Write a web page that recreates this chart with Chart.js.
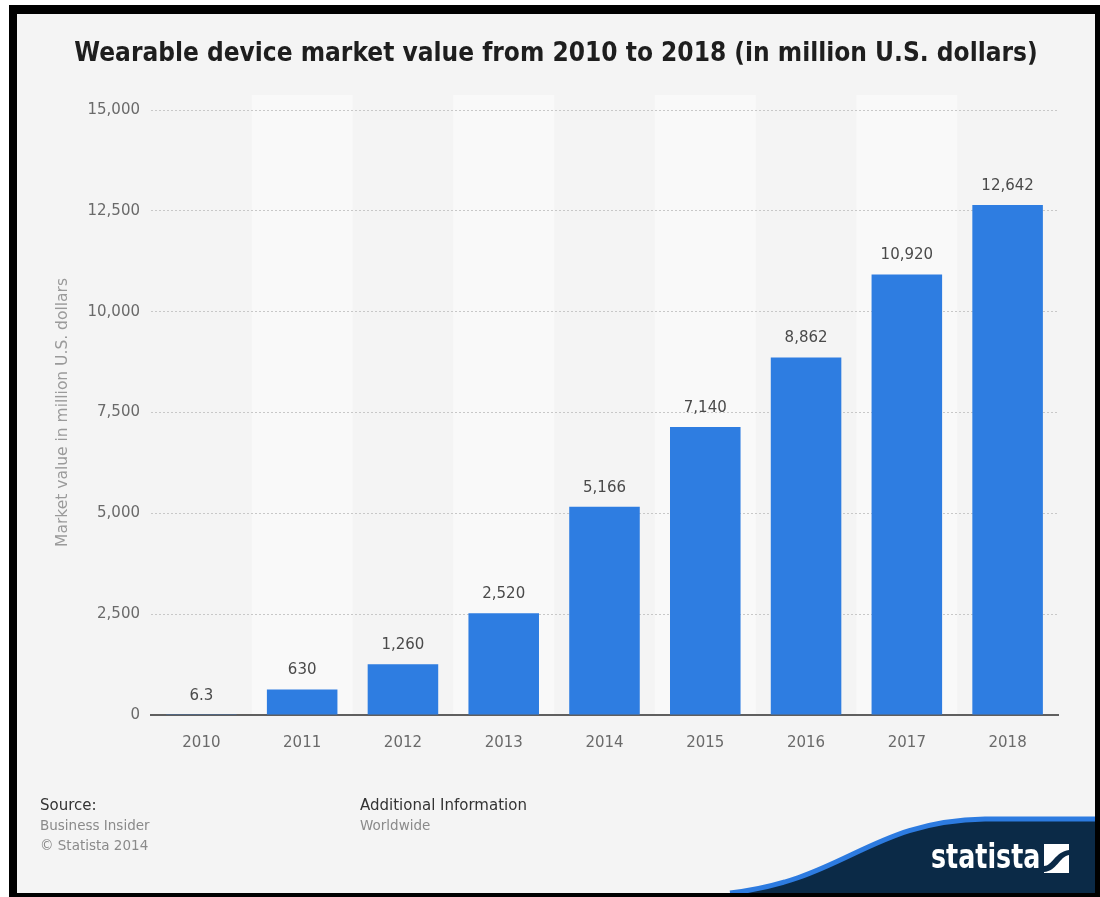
<!DOCTYPE html>
<html><head><meta charset="utf-8">
<script src="https://cdn.jsdelivr.net/npm/chart.js@4.4.1/dist/chart.umd.min.js"></script>
<style>
html,body{margin:0;padding:0;background:#fff;width:1100px;height:897px;overflow:hidden;}
#frame{position:absolute;left:9px;top:5px;width:1091px;height:892px;background:#000;}
#inner{position:absolute;left:17px;top:14px;width:1078px;height:879px;background:#f4f4f4;overflow:hidden;}
#wrap{position:absolute;left:0;top:0;width:1078px;height:879px;}
#title{position:absolute;left:0;top:23px;width:1078px;text-align:center;font-family:'DejaVu Sans Condensed','DejaVu Sans',sans-serif;font-stretch:condensed;font-weight:bold;font-size:26px;line-height:30px;color:#1e1e1e;}
.ft{position:absolute;font-family:'DejaVu Sans',sans-serif;font-size:13.5px;line-height:20px;}
.ft .h{color:#333;font-size:15px;}
.ft .s{color:#8a8a8a;}
#logo{position:absolute;left:0;top:0;}
#logotext{position:absolute;left:914px;top:822px;font-family:'DejaVu Sans',sans-serif;font-weight:bold;font-size:34px;line-height:40px;color:#fff;transform:scaleX(0.745);transform-origin:left top;}
</style></head>
<body>
<div id="frame"></div>
<div id="inner">
  <div id="wrap"><canvas id="c" width="1078" height="879"></canvas></div>
  <div id="title">Wearable device market value from 2010 to 2018 (in million U.S. dollars)</div>
  <div class="ft" style="left:23px;top:781px;"><div class="h">Source:</div><div class="s">Business Insider</div><div class="s">© Statista 2014</div></div>
  <div class="ft" style="left:343px;top:781px;"><div class="h">Additional Information</div><div class="s">Worldwide</div></div>
  <svg id="logo" width="1078" height="879" viewBox="17 14 1078 879">
    <path d="M 730 893 C 845 880, 870 821, 985 819 L 1095 819 L 1095 893 Z" fill="#0b2a47"/>
    <path d="M 730 893 C 845 880, 870 821, 985 819 L 1095 819" fill="none" stroke="#2d7be0" stroke-width="5"/>
    <rect x="1044" y="844" width="25" height="29" fill="#fff"/>
    <path d="M 1044 866 C 1052 866, 1055 852, 1069 850 L 1069 855 C 1059 857, 1057 871, 1044 872 Z" fill="#0b2a47"/>
  </svg>
  <div id="logotext">statista</div>
</div>
<script>
const categories = ['2010','2011','2012','2013','2014','2015','2016','2017','2018'];
const marketValue = [6.3, 630, 1260, 2520, 5166, 7140, 8862, 10920, 12642];
const yTicks = [0, 2500, 5000, 7500, 10000, 12500, 15000];
const yAxisTitle = 'Market value in million U.S. dollars';

const FONT = "'DejaVu Sans', sans-serif";

const bandsPlugin = {
  id: 'bands',
  beforeDraw(chart) {
    const {ctx, chartArea, scales} = chart;
    const x = scales.x;
    const step = (chartArea.right - chartArea.left) / categories.length;
    ctx.save();
    ctx.fillStyle = '#f9f9f9';
    categories.forEach((c, i) => {
      if (i % 2 === 1) {
        const cx = x.getPixelForValue(i);
        ctx.fillRect(cx - step / 2, chartArea.top - 15, step, chartArea.bottom - chartArea.top + 15);
      }
    });
    ctx.restore();
  }
};

const labelsPlugin = {
  id: 'valueLabels',
  afterDatasetsDraw(chart) {
    const {ctx} = chart;
    const meta = chart.getDatasetMeta(0);
    ctx.save();
    ctx.font = '15px ' + FONT;
    ctx.fillStyle = '#4a4a4a';
    ctx.textAlign = 'center';
    ctx.textBaseline = 'middle';
    meta.data.forEach((bar, i) => {
      const v = chart.data.datasets[0].data[i];
      ctx.fillText(v.toLocaleString('en-US'), bar.x, bar.y - 19);
    });
    ctx.restore();
  }
};

new Chart(document.getElementById('c'), {
  type: 'bar',
  data: {
    labels: categories,
    datasets: [{
      data: marketValue,
      backgroundColor: '#2e7de1',
      borderWidth: 0,
      barPercentage: 0.7,
      categoryPercentage: 1.0
    }]
  },
  options: {
    responsive: false,
    animation: false,
    devicePixelRatio: 1,
    layout: { padding: { top: 96, right: 37, bottom: 128, left: 0 } },
    plugins: { legend: { display: false }, tooltip: { enabled: false }, title: { display: false } },
    scales: {
      x: {
        grid: { display: false, drawTicks: false },
        border: { display: true, color: '#5f5f5f', width: 2 },
        ticks: { color: '#6a6a6a', font: { family: FONT, size: 15 }, padding: 19 },
        afterFit(s) { s.height = 50; }
      },
      y: {
        min: 0, max: 15000,
        afterBuildTicks(s) { s.ticks = yTicks.map(v => ({ value: v })); },
        grid: { color: '#c8c8c8', drawTicks: false, lineWidth: 1 },
        border: { display: false, dash: [2, 2] },
        ticks: {
          color: '#6a6a6a', font: { family: FONT, size: 15 }, padding: 11,
          callback: v => v.toLocaleString('en-US')
        },
        title: { display: true, text: yAxisTitle, color: '#9a9a9a', font: { family: FONT, size: 15.5 }, padding: { top: 37, bottom: 0 } },
        afterFit(s) { s.width = 134; }
      }
    }
  },
  plugins: [bandsPlugin, labelsPlugin]
});
</script>
</body></html>
